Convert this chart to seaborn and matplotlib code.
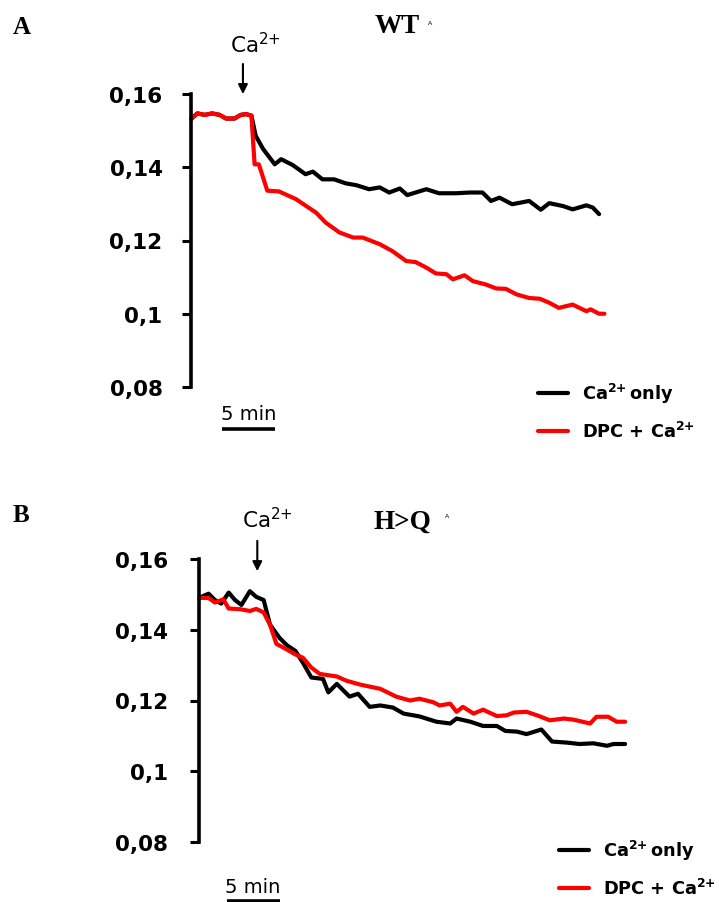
import numpy as np
import pandas as pd
import matplotlib
matplotlib.use('Agg')
import matplotlib.pyplot as plt
import seaborn as sns

# panel A (WT), time in minutes
a_ca_t = [0, 0.6, 1.3, 2.0, 2.7, 3.3, 4.1, 4.7, 5.2, 5.7, 6.1, 6.8, 7.9, 8.5, 9.6, 10.8, 11.5,
          12.4, 13.5, 14.6, 15.6, 16.8, 17.8, 18.7, 19.7, 20.4, 22.2, 23.4, 25.0, 26.3, 27.5,
          28.3, 29.1, 30.3, 31.9, 33.0, 33.8, 35.1, 36.0, 37.3, 37.9, 38.5]
a_ca_v = [0.1532, 0.1547, 0.1543, 0.1547, 0.1543, 0.1533, 0.1533, 0.1543, 0.1545, 0.1541,
          0.1486, 0.1450, 0.1408, 0.1422, 0.1406, 0.1381, 0.1388, 0.1367, 0.1367, 0.1356,
          0.1351, 0.1340, 0.1345, 0.1331, 0.1342, 0.1324, 0.1340, 0.1329, 0.1329, 0.1331,
          0.1331, 0.1308, 0.1317, 0.1299, 0.1308, 0.1284, 0.1302, 0.1294, 0.1285, 0.1296,
          0.1290, 0.1272]
a_dpc_t = [0, 0.6, 1.3, 2.0, 2.7, 3.3, 4.1, 4.7, 5.2, 5.7, 6.0, 6.4, 7.2, 8.3, 9.9, 11.8, 12.7,
           14.0, 15.3, 16.2, 17.8, 19.0, 20.3, 21.2, 22.2, 23.1, 24.1, 24.7, 25.8, 26.6, 27.8,
           28.8, 29.7, 30.7, 31.9, 32.9, 33.8, 34.7, 36.0, 37.3, 37.7, 38.5, 39.0]
a_dpc_v = [0.1532, 0.1547, 0.1543, 0.1547, 0.1543, 0.1533, 0.1533, 0.1543, 0.1545, 0.1541,
           0.1408, 0.1408, 0.1336, 0.1334, 0.1313, 0.1276, 0.1249, 0.1222, 0.1208, 0.1208,
           0.1190, 0.1171, 0.1144, 0.1141, 0.1126, 0.1110, 0.1108, 0.1094, 0.1105, 0.1089,
           0.1080, 0.1069, 0.1068, 0.1053, 0.1043, 0.1041, 0.1030, 0.1016, 0.1025, 0.1007,
           0.1012, 0.1000, 0.1000]

# panel B (H>Q)
b_ca_t = [0, 0.9, 1.5, 2.1, 2.8, 3.4, 4.0, 4.8, 5.4, 6.1, 6.7, 7.6, 8.3, 9.1, 9.8, 10.6, 11.7,
          12.2, 13.0, 14.2, 15.0, 16.1, 17.1, 18.3, 19.3, 20.8, 22.4, 23.7, 24.3, 25.6, 26.8,
          28.1, 28.9, 30.0, 30.9, 32.3, 33.3, 34.7, 35.9, 37.2, 38.5, 39.1, 40.2]
b_ca_v = [0.1490, 0.1502, 0.1484, 0.1474, 0.1505, 0.1484, 0.1470, 0.1509, 0.1493, 0.1484,
          0.1414, 0.1377, 0.1356, 0.1340, 0.1307, 0.1265, 0.1261, 0.1223, 0.1247, 0.1211,
          0.1219, 0.1182, 0.1186, 0.1180, 0.1163, 0.1155, 0.1140, 0.1135, 0.1149, 0.1140,
          0.1128, 0.1128, 0.1114, 0.1112, 0.1105, 0.1118, 0.1084, 0.1081, 0.1077, 0.1079,
          0.1072, 0.1077, 0.1077]
b_dpc_t = [0, 0.9, 1.5, 2.3, 2.8, 3.9, 4.8, 5.4, 6.1, 6.7, 7.3, 8.3, 9.1, 9.8, 10.6, 11.4, 13.0,
           13.9, 15.2, 17.1, 18.6, 19.9, 20.8, 22.1, 22.7, 23.7, 24.3, 24.9, 25.9, 26.8, 28.1,
           29.0, 29.7, 30.9, 31.9, 33.1, 34.4, 35.3, 36.9, 37.5, 38.6, 39.4, 40.2]
b_dpc_v = [0.1490, 0.1490, 0.1477, 0.1486, 0.1460, 0.1458, 0.1453, 0.1459, 0.1449, 0.1414,
           0.1360, 0.1344, 0.1330, 0.1321, 0.1293, 0.1275, 0.1268, 0.1256, 0.1245, 0.1233,
           0.1211, 0.1200, 0.1205, 0.1195, 0.1186, 0.1191, 0.1168, 0.1182, 0.1163, 0.1174,
           0.1156, 0.1158, 0.1166, 0.1168, 0.1158, 0.1144, 0.1149, 0.1146, 0.1135, 0.1154,
           0.1154, 0.1140, 0.1140]

lab_ca = r'$\mathbf{Ca}^{\mathbf{2{+}}}\,$only'
lab_dpc = r'DPC + $\mathbf{Ca}^{\mathbf{2{+}}}$'
yticks = [0.08, 0.10, 0.12, 0.14, 0.16]
yticklabels = ['0,08', '0,1', '0,12', '0,14', '0,16']
ca_add = {'A': 4.9, 'B': 5.5}

sns.set_style('white')
plt.rcParams['font.family'] = ['DejaVu Sans']
plt.rcParams['text.color'] = 'black'
plt.rcParams['ytick.color'] = 'black'
plt.rcParams['xtick.color'] = 'black'
plt.rcParams['axes.labelcolor'] = 'black'

fig = plt.figure(figsize=(7.19, 9.03), dpi=100)
W, H = 719, 903

def make_df(t1, v1, t2, v2):
    d1 = pd.DataFrame({'time': t1, 'ratio': v1, 'cond': lab_ca})
    d2 = pd.DataFrame({'time': t2, 'ratio': v2, 'cond': lab_dpc})
    return pd.concat([d1, d2], ignore_index=True)

panels = [
    dict(name='A', title='WT', left=191, top=95, bottom=388, pad=14,
         df=make_df(a_ca_t, a_ca_v, a_dpc_t, a_dpc_v),
         lbl_y=34, ttl_x=375, ttl_y=33, tiny=(428, 25),
         ca_txt=(6.1, 1.143), arr=(1.112, 0.99), bar=(2.9, -0.143), bar_txt=(5.4, -0.11),
         leg=(0.818, 0.02)),
    dict(name='B', title='H>Q', left=199, top=560, bottom=843, pad=16,
         df=make_df(b_ca_t, b_ca_v, b_dpc_t, b_dpc_v),
         lbl_y=522, ttl_x=374, ttl_y=529, tiny=(445, 518),
         ca_txt=(6.5, 1.113), arr=(1.074, 0.947), bar=(2.6, -0.208), bar_txt=(5.1, -0.175),
         leg=(0.849, 0.015)),
]

for p in panels:
    ax = fig.add_axes([p['left'] / W, 1 - p['bottom'] / H, 424 / W, (p['bottom'] - p['top']) / H])
    sns.lineplot(data=p['df'], x='time', y='ratio', hue='cond',
                 palette={lab_ca: 'black', lab_dpc: '#ff0000'},
                 linewidth=3, ax=ax, estimator=None, sort=False)
    for ln in ax.lines:
        ln.set_clip_on(False)
        ln.set_solid_joinstyle('round')
    ax.set_xlim(0, 40)
    ax.set_ylim(0.08, 0.16)
    ax.set_xlabel('')
    ax.set_ylabel('')
    ax.set_xticks([])
    ax.set_yticks(yticks)
    ax.set_yticklabels(yticklabels, fontsize=15.5, fontweight='bold')
    ax.tick_params(axis='y', direction='out', length=6.5, width=2.2, pad=p['pad'], left=True)
    for s in ['top', 'right', 'bottom']:
        ax.spines[s].set_visible(False)
    ax.spines['left'].set_linewidth(2.6)
    ax.spines['left'].set_color('black')
    ax.patch.set_alpha(0)

    leg = ax.legend(loc='upper left', bbox_to_anchor=p['leg'], frameon=False,
                    handlelength=1.7, handletextpad=0.8, labelspacing=0.9,
                    borderpad=0, borderaxespad=0,
                    prop={'size': 12.8, 'weight': 'bold'})
    for h in leg.get_lines():
        h.set_linewidth(3)

    tr = ax.get_xaxis_transform()
    t0 = ca_add[p['name']]
    ax.annotate('', xy=(t0, p['arr'][1]), xytext=(t0, p['arr'][0]),
                xycoords=tr, textcoords=tr, annotation_clip=False,
                arrowprops=dict(arrowstyle='-|>', color='black', lw=1.5, mutation_scale=14))
    ax.text(p['ca_txt'][0], p['ca_txt'][1], r'$\mathrm{Ca}^{2{+}}$', transform=tr,
            ha='center', va='baseline', fontsize=15.5, clip_on=False)
    bx = p['bar'][0]
    ax.plot([bx, bx + 5], [p['bar'][1], p['bar'][1]], transform=tr, color='black',
            lw=2.6, clip_on=False, solid_capstyle='butt')
    ax.text(p['bar_txt'][0], p['bar_txt'][1], '5 min', transform=tr,
            ha='center', va='baseline', fontsize=14, clip_on=False)

    fig.text(13 / W, 1 - p['lbl_y'] / H, p['name'], family='Liberation Serif',
             fontweight='bold', fontsize=18, va='baseline')
    fig.text(p['ttl_x'] / W, 1 - p['ttl_y'] / H, p['title'], family='Liberation Serif',
             fontweight='bold', fontsize=19.5, va='baseline')
    fig.text(p['tiny'][0] / W, 1 - p['tiny'][1] / H, 'A', fontsize=4.5, va='baseline')

fig.savefig('out.png', dpi=100)
